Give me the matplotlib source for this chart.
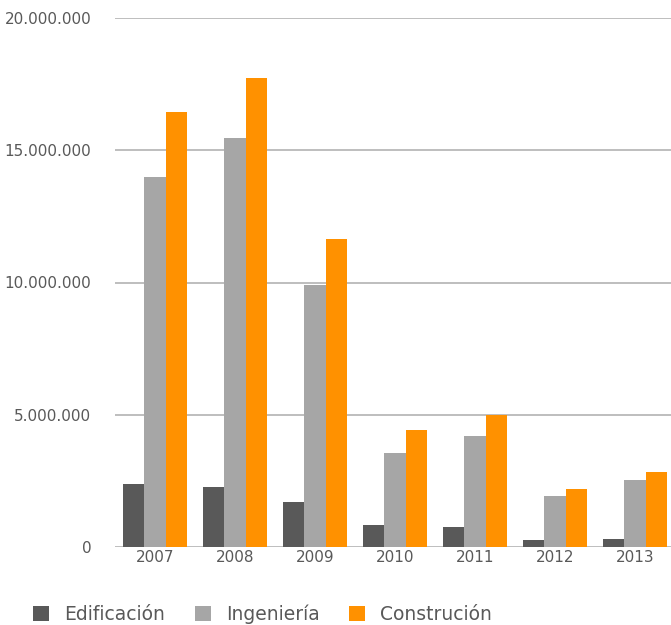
import matplotlib

matplotlib.use("Agg")
import matplotlib.pyplot as plt
import numpy as np

years = ["2007", "2008", "2009", "2010", "2011", "2012", "2013"]
edificacion = [2_400_000, 2_250_000, 1_690_000, 820_000, 750_000, 250_000, 290_000]
ingenieria = [14_000_000, 15_460_000, 9_910_000, 3_570_000, 4_180_000, 1_910_000, 2_520_000]
construcion = [16_440_000, 17_720_000, 11_650_000, 4_440_000, 5_000_000, 2_180_000, 2_820_000]
series = [
    ("Edificación", edificacion, "#595959"),
    ("Ingeniería", ingenieria, "#a6a6a6"),
    ("Construción", construcion, "#ff9100"),
]
yticks = [0, 5_000_000, 10_000_000, 15_000_000, 20_000_000]
ytick_labels = ["0", "5.000.000", "10.000.000", "15.000.000", "20.000.000"]

plt.rcParams["font.family"] = ["DejaVu Sans"]
W, H = 671, 625
fig = plt.figure(figsize=(W / 100, H / 100), dpi=100)
ax = fig.add_axes([115 / W, 1 - 547 / H, 560 / W, (547 - 18) / H])

x = np.arange(len(years))
bw = 0.267
for i, (name, vals, col) in enumerate(series):
    ax.bar(x + (i - 1) * bw, vals, width=bw, color=col, label=name, zorder=3)

ax.set_xlim(-0.5, len(years) - 0.5)
ax.set_ylim(0, 20_000_000)
ax.set_yticks(yticks)
ax.set_yticklabels(ytick_labels)
ax.set_xticks(x)
ax.set_xticklabels(years)
ax.tick_params(axis="both", length=0, colors="#595959", labelsize=11)
ax.tick_params(axis="y", pad=17)
ax.tick_params(axis="x", pad=2)
ax.grid(axis="y", color="#b3b3b3", lw=1.2, zorder=0)
for s in ax.spines.values():
    s.set_visible(False)

leg = fig.legend(
    loc="center left",
    bbox_to_anchor=(16 / W, 1 - 614 / H),
    ncol=3,
    frameon=False,
    fontsize=13.5,
    handlelength=0.85,
    handleheight=0.85,
    handletextpad=0.8,
    columnspacing=1.6,
)
for t in leg.get_texts():
    t.set_color("#595959")

fig.savefig("out.png", dpi=100)
